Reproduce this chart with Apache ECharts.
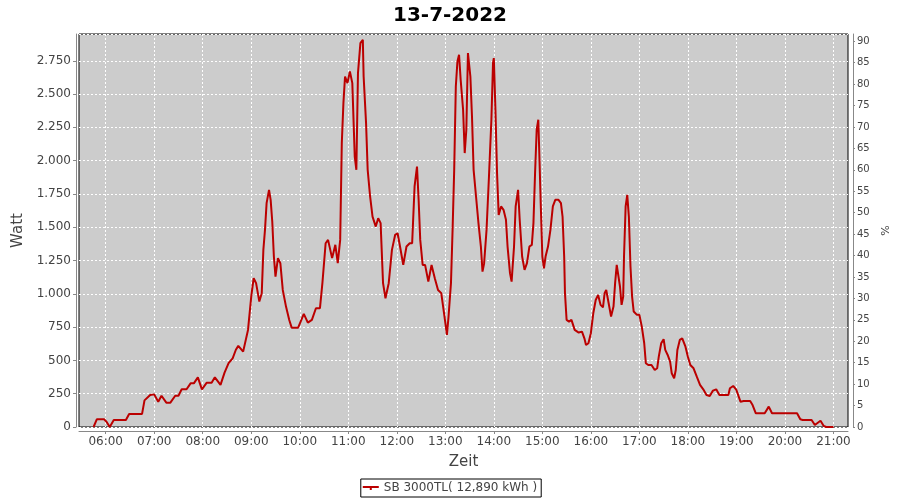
<!DOCTYPE html>
<html>
<head>
<meta charset="utf-8">
<script src="https://cdn.jsdelivr.net/npm/echarts@6/dist/echarts.min.js"></script>
<style>
html,body{margin:0;padding:0;background:#fff;}
#chart{width:900px;height:500px;}
</style>
</head>
<body>
<div id="chart"></div>
<script>
var titleText = "13-7-2022";
var seriesName = "SB 3000TL( 12,890 kWh )";
var xTickLabels = ["06:00","07:00","08:00","09:00","10:00","11:00","12:00","13:00","14:00","15:00","16:00","17:00","18:00","19:00","20:00","21:00"];
var times = ["05:45","05:49","05:54","05:58","06:01","06:05","06:10","06:18","06:25","06:29","06:37","06:45","06:48","06:55","07:00","07:05","07:09","07:15","07:20","07:26","07:30","07:34","07:40","07:45","07:49","07:54","07:59","08:05","08:11","08:15","08:22","08:27","08:32","08:37","08:41","08:44","08:50","08:56","09:00","09:03","09:06","09:10","09:13","09:15","09:17","09:19","09:22","09:24","09:26","09:28","09:30","09:33","09:36","09:39","09:43","09:47","09:50","09:58","10:02","10:05","10:10","10:15","10:20","10:25","10:28","10:32","10:35","10:40","10:44","10:47","10:50","10:52","10:54","10:56","10:59","11:02","11:05","11:08","11:10","11:12","11:15","11:18","11:19","11:22","11:24","11:27","11:30","11:34","11:37","11:40","11:43","11:46","11:50","11:54","11:58","12:01","12:04","12:08","12:12","12:16","12:19","12:22","12:25","12:27","12:29","12:32","12:35","12:39","12:43","12:47","12:51","12:55","12:59","13:02","13:04","13:07","13:09","13:11","13:13","13:15","13:17","13:19","13:22","13:24","13:26","13:28","13:31","13:33","13:35","13:38","13:41","13:44","13:46","13:48","13:51","13:54","13:57","13:59","14:00","14:02","14:04","14:06","14:09","14:12","14:15","14:17","14:20","14:22","14:25","14:27","14:30","14:32","14:35","14:38","14:41","14:44","14:47","14:49","14:51","14:53","14:55","14:56","14:58","15:00","15:02","15:04","15:07","15:10","15:13","15:16","15:20","15:23","15:25","15:27","15:28","15:30","15:33","15:36","15:40","15:45","15:49","15:52","15:54","15:57","16:00","16:03","16:06","16:09","16:12","16:15","16:17","16:19","16:22","16:25","16:28","16:30","16:32","16:34","16:36","16:38","16:40","16:41","16:43","16:45","16:47","16:49","16:51","16:53","16:57","17:00","17:03","17:06","17:08","17:11","17:15","17:19","17:22","17:24","17:27","17:30","17:32","17:35","17:38","17:40","17:43","17:45","17:47","17:50","17:53","17:57","18:00","18:03","18:07","18:11","18:15","18:19","18:23","18:27","18:31","18:35","18:39","18:44","18:50","18:52","18:56","19:00","19:05","19:09","19:17","19:20","19:24","19:29","19:35","19:40","19:44","19:50","20:15","20:19","20:22","20:33","20:37","20:39","20:44","20:48","20:51","21:00"];
var watts = [0,58,58,58,40,0,52,52,52,98,98,98,200,240,245,190,235,183,183,235,235,283,283,328,328,373,283,333,333,373,316,408,479,516,580,609,566,729,979,1117,1080,942,1005,1330,1480,1681,1781,1706,1543,1280,1129,1268,1230,1029,904,804,746,746,804,849,784,804,892,892,1080,1380,1405,1268,1368,1230,1405,2132,2432,2632,2582,2670,2582,2031,1931,2657,2883,2908,2632,2282,1931,1731,1580,1505,1568,1531,1080,967,1080,1330,1443,1455,1355,1217,1355,1380,1380,1806,1956,1706,1405,1217,1217,1092,1217,1117,1029,1005,829,691,829,1080,1480,1931,2557,2745,2795,2607,2382,2057,2232,2808,2632,2332,1931,1731,1531,1355,1167,1230,1480,1881,2307,2733,2770,2382,1906,1593,1656,1631,1556,1355,1155,1092,1355,1656,1781,1556,1280,1180,1230,1355,1368,1531,1906,2232,2307,2106,1681,1280,1192,1280,1355,1480,1656,1706,1706,1681,1580,1280,1005,804,791,804,729,709,716,666,616,629,704,854,954,992,917,899,1005,1029,929,829,904,1080,1217,1205,1055,917,979,1280,1656,1743,1580,1205,979,867,842,842,754,629,479,466,466,428,441,528,629,659,579,541,491,404,366,428,579,654,666,603,528,466,441,378,316,283,240,233,273,283,240,240,240,291,308,278,190,195,195,165,103,103,103,153,103,103,103,58,53,53,15,8,47,8,0,0];

function toMin(s){var p=s.split(":");return (+p[0])*60+(+p[1]);}
function fmtTime(v){var h=Math.floor(v/60),m=Math.round(v%60);return (h<10?"0":"")+h+":"+(m<10?"0":"")+m;}
function fmtWatt(v){var s=String(Math.round(v));return s.replace(/\B(?=(\d{3})+(?!\d))/g,".");}

var data = times.map(function(t,i){return [toMin(t), watts[i]];});
var xTicks = xTickLabels.map(toMin);

var chart = echarts.init(document.getElementById('chart'), null, {renderer:'canvas'});
var font = "DejaVu Sans";
chart.setOption({
  animation:false,
  backgroundColor:'#ffffff',
  textStyle:{fontFamily:font},
  title:{text:titleText,left:'center',top:1,textStyle:{fontFamily:font,fontSize:20,fontWeight:'bold',color:'#000'}},
  grid:{left:79,right:52,top:34,bottom:73,show:true,backgroundColor:'#cccccc',borderColor:'#000',borderWidth:1,containLabel:false},
  legend:{data:[{name:seriesName,icon:'path://M0,3 L16,3 L16,5 L0,5 Z M7,5 L9,5 L9,7 L7,7 Z'}],bottom:3,left:'center',borderColor:'#000',borderWidth:1,borderRadius:0,padding:[3,4,3,2],itemWidth:16,itemHeight:7,itemGap:5,
    itemStyle:{color:'#bb0000'},
    textStyle:{fontFamily:font,fontSize:12,color:'#444'}},
  xAxis:{type:'value',min:327,max:1278,offset:4,
    name:'Zeit',nameLocation:'middle',nameGap:24,nameTextStyle:{fontFamily:font,fontSize:15,color:'#444'},
    axisLine:{show:true,onZero:false,lineStyle:{color:'#888',width:1}},
    axisTick:{show:true,length:3,customValues:xTicks,lineStyle:{color:'#888'}},
    axisLabel:{customValues:xTicks,formatter:fmtTime,fontFamily:font,fontSize:12,color:'#444',margin:5},
    splitLine:{show:true,lineStyle:{color:'#ffffff',type:[2,2],width:1}}
  },
  yAxis:[{type:'value',min:0,max:2951,interval:250,offset:3,
    name:'Watt',nameLocation:'middle',nameGap:43,nameTextStyle:{fontFamily:font,fontSize:15,color:'#444'},
    axisLine:{show:true,lineStyle:{color:'#888',width:1}},
    axisTick:{show:true,length:3,lineStyle:{color:'#888'}},
    axisLabel:{formatter:fmtWatt,showMaxLabel:false,fontFamily:font,fontSize:12,color:'#444',margin:5},
    splitLine:{show:true,lineStyle:{color:'#ffffff',type:[2,2],width:1}}
  },{type:'value',min:0,max:91.7,interval:5,offset:5,position:'right',
    name:'%',nameLocation:'middle',nameGap:23,nameTextStyle:{fontFamily:font,fontSize:11,color:'#444'},
    axisLine:{show:true,lineStyle:{color:'#888',width:1}},
    axisTick:{show:true,length:2,lineStyle:{color:'#888'}},
    axisLabel:{showMaxLabel:false,fontFamily:font,fontSize:10,color:'#444',margin:4},
    splitLine:{show:false}
  }],
  series:[{name:seriesName,type:'line',yAxisIndex:0,data:data,showSymbol:false,symbol:'none',
    lineStyle:{color:'#bb0000',width:2},itemStyle:{color:'#bb0000'}}]
});
</script>
</body>
</html>
